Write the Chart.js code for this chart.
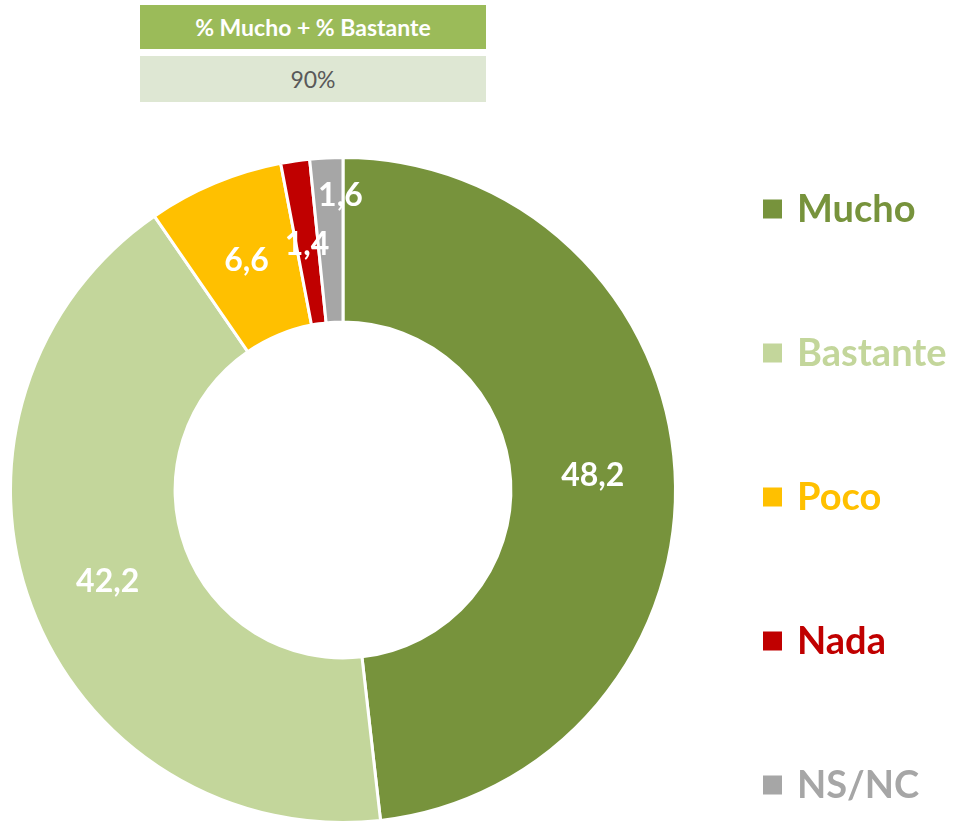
<!DOCTYPE html>
<html>
<head>
<meta charset="utf-8">
<script src="https://cdn.jsdelivr.net/npm/chart.js@4.4.1/dist/chart.umd.min.js"></script>
<style>
  html, body { margin: 0; padding: 0; background: #ffffff; }
  body { width: 955px; height: 825px; position: relative; overflow: hidden; font-family: Lato, "Open Sans", sans-serif; }
  #wrap { position: absolute; left: 0; top: 0; width: 955px; height: 825px; }
  #hdr { position: absolute; left: 140px; top: 5px; width: 346px; height: 44px; background: #9BBB59; color: #ffffff;
         font-weight: bold; font-size: 23px; line-height: 44px; text-align: center; }
  #val { position: absolute; left: 140px; top: 56px; width: 346px; height: 46px; background: #DEE7D3; color: #595959;
         font-size: 23px; line-height: 46px; text-align: center; }
</style>
</head>
<body>
<div id="wrap"><canvas id="c" width="955" height="825"></canvas></div>
<div id="hdr">% Mucho + % Bastante</div>
<div id="val">90%</div>
<script>
const categories = ["Mucho", "Bastante", "Poco", "Nada", "NS/NC"];
const values = [48.2, 42.2, 6.6, 1.4, 1.6];
const colors = ["#77933C", "#C3D69B", "#FFC000", "#C00000", "#A6A6A6"];

const fmt = v => v.toFixed(1).replace('.', ',');

const labelPlugin = {
  id: 'sliceLabels',
  afterDatasetsDraw(chart, args, opts) {
    const ctx = chart.ctx;
    const meta = chart.getDatasetMeta(0);
    ctx.save();
    ctx.font = 'bold 32px Lato, "Open Sans", sans-serif';
    ctx.fillStyle = '#ffffff';
    ctx.textAlign = 'center';
    ctx.textBaseline = 'middle';
    meta.data.forEach((arc, i) => {
      const p = arc.tooltipPosition();
      const s = (opts.shifts && opts.shifts[i]) || [0, 0];
      ctx.fillText(fmt(values[i]), p.x + s[0], p.y + s[1]);
    });
    ctx.restore();
  }
};

const legendPlugin = {
  id: 'sideLegend',
  afterDraw(chart, args, opts) {
    const ctx = chart.ctx;
    ctx.save();
    ctx.font = 'bold 38px Lato, "Open Sans", sans-serif';
    ctx.textBaseline = 'middle';
    ctx.textAlign = 'left';
    categories.forEach((c, i) => {
      const y = opts.top + i * opts.step;
      ctx.fillStyle = colors[i];
      ctx.fillRect(opts.boxX, y - 9.5, 19, 19);
      ctx.fillText(c, opts.textX, y + 1);
    });
    ctx.restore();
  }
};

new Chart(document.getElementById('c'), {
  type: 'doughnut',
  data: {
    labels: categories,
    datasets: [{
      data: values,
      backgroundColor: colors,
      borderColor: '#ffffff',
      borderWidth: 3,
      hoverOffset: 0
    }]
  },
  options: {
    responsive: false,
    animation: false,
    cutout: '50.5%',
    layout: { padding: { left: 9, right: 278, top: 155, bottom: 0 } },
    plugins: {
      legend: { display: false },
      tooltip: { enabled: false },
      sliceLabels: { shifts: [[0, 0], [-1, 4], [0, 2], [0, 2], [10, -44]] },
      sideLegend: { top: 209, step: 144, boxX: 763, textX: 797 }
    }
  },
  plugins: [labelPlugin, legendPlugin]
});
</script>
</body>
</html>
